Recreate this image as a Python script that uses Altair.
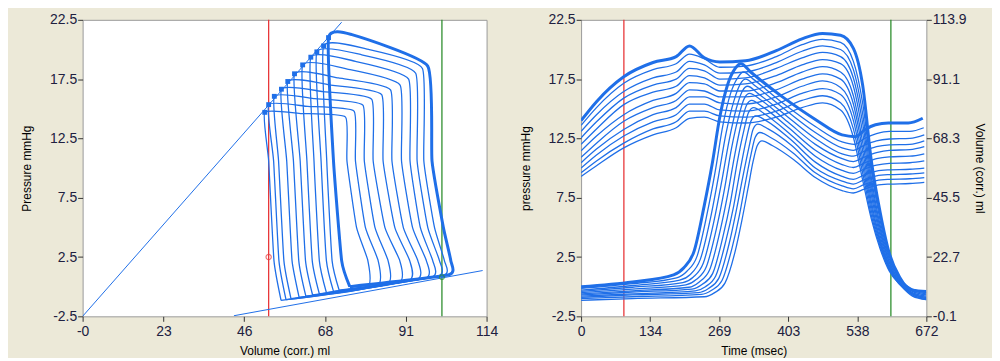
import altair as alt
import pandas as pd

BG = "#ece9d8"
BLUE = "#1f6fe8"
RED = "#e8383a"
GREEN = "#2f8f2f"
LABEL = "#202040"
FONT = "Liberation Sans"

# ---------------- left panel: pressure-volume loops (loop 0 = largest, thick) ----------------
esv_top     = [69.4, 68.0, 66.1, 64.4, 62.1, 59.8, 57.9, 56.1, 54.1, 52.5, 51.4]
p_es        = [21.0, 20.3, 19.8, 19.35, 18.7, 17.95, 17.3, 16.65, 16.05, 15.35, 14.7]
top_mid_x   = [76.0, 80.7, 78.8, 77.0, 74.7, 72.2, 70.0, 67.8, 65.5, 63.5, 61.8]
top_mid_p   = [21.25, 20.0, 19.55, 19.0, 18.35, 17.6, 17.0, 16.45, 15.85, 15.2, 14.6]
edv_top     = [97.4, 95.9, 94.0, 92.0, 89.6, 86.9, 84.4, 81.6, 79.1, 76.6, 74.2]
p_top_right = [18.6, 18.4, 18.0, 17.5, 17.0, 16.6, 16.2, 15.8, 15.3, 14.8, 14.3]
right_at_10 = [98.6, 96.3, 94.4, 92.4, 90.0, 87.3, 84.8, 82.0, 79.5, 77.0, 74.6]
right_at_5  = [101.8, 99.3, 97.4, 95.3, 93.1, 90.5, 88.1, 85.3, 82.5, 79.8, 77.3]
right_at_2  = [103.9, 102.1, 100.7, 98.8, 97.0, 94.6, 92.3, 89.5, 86.2, 83.4, 80.5]
edv_bot     = [103.4, 101.8, 100.4, 98.5, 96.7, 94.3, 92.0, 89.2, 85.9, 83.1, 80.2]
p_bot_right = [1.0, 0.95, 0.9, 0.8, 0.7, 0.6, 0.5, 0.35, 0.2, 0.05, -0.1]
esv_bot     = [75.4, 72.4, 70.8, 68.8, 66.8, 64.9, 63.0, 61.1, 58.8, 57.4, 56.0]
p_bot_left  = [0.0, -0.3, -0.4, -0.5, -0.6, -0.7, -0.8, -0.9, -1.0, -1.1, -1.15]
left_at_10  = [70.8, 68.9, 67.3, 65.3, 63.3, 61.4, 59.5, 57.6, 55.3, 53.9, 52.5]
left_at_2   = [73.1, 70.4, 68.8, 66.8, 64.8, 62.9, 61.0, 59.1, 56.8, 55.4, 54.0]
P_HIGH, P_MID, P_LOW = 10.6, 5.0, 2.2

espvr_vol, espvr_p = [0.0, 73.1], [-2.5, 22.3]
edpvr_vol, edpvr_p = [42.7, 112.9], [-2.45, 1.36]
red_vol, green_vol = 52.5, 101.4
red_mark = (52.5, 2.5)
green_mark = (101.4, 0.8)

vol_ticks = [0, 22.8, 45.6, 68.4, 91.2, 114]
p_ticks = [-2.5, 2.5, 7.5, 12.5, 17.5, 22.5]

# ---------------- right panel: curves against time ----------------
time_ticks = [0, 134.4, 268.8, 403.2, 537.6, 672]
vol_axis_ticks = [-0.1, 22.7, 45.5, 68.3, 91.1, 113.9]
red_t, green_t = 83.3, 603.0

# upper family (starts high), common time grid
tx = [0, 30, 83, 140, 185, 211, 240, 270, 320, 380, 430, 470, 505, 530, 548, 565, 582, 600, 620, 645, 672]
upper_curves = [
    [14.0, 15.6, 17.7, 18.9, 19.4, 20.3, 19.3, 18.95, 19.05, 19.9, 20.9, 21.35, 21.2, 20.1, 17.0, 10.6, 6.3, 2.8, 0.8, -0.3, -0.4],
    [13.6, 15.1, 17.15, 18.3, 18.8, 19.6, 19.2, 18.5, 18.6, 19.4, 20.4, 20.85, 20.6, 19.0, 15.5, 9.8, 5.6, 2.5, 0.7, -0.2, -0.5],
    [13.1, 14.5, 16.45, 17.6, 18.1, 19.0, 18.7, 18.0, 18.1, 18.9, 19.85, 20.3, 20.0, 18.3, 14.6, 9.2, 5.2, 2.3, 0.6, -0.3, -0.6],
    [12.55, 13.9, 15.9, 17.0, 17.5, 18.4, 18.2, 17.5, 17.6, 18.4, 19.3, 19.75, 19.4, 17.6, 13.8, 8.7, 4.9, 2.1, 0.5, -0.4, -0.7],
    [12.0, 13.3, 15.35, 16.4, 16.9, 17.8, 17.6, 17.0, 17.1, 17.8, 18.7, 19.15, 18.8, 16.9, 13.0, 8.2, 4.6, 2.0, 0.4, -0.5, -0.8],
    [11.45, 12.7, 14.5, 15.7, 16.3, 17.2, 17.1, 16.5, 16.5, 17.2, 18.1, 18.55, 18.1, 16.1, 12.2, 7.7, 4.3, 1.8, 0.3, -0.6, -0.9],
    [10.9, 12.1, 13.95, 15.1, 15.7, 16.6, 16.5, 16.0, 16.0, 16.6, 17.5, 17.95, 17.5, 15.4, 11.5, 7.2, 4.0, 1.7, 0.3, -0.6, -0.9],
    [10.45, 11.6, 13.25, 14.5, 15.1, 16.0, 16.0, 15.5, 15.4, 16.0, 16.9, 17.35, 16.8, 14.7, 10.8, 6.8, 3.8, 1.6, 0.3, -0.6, -1.0],
    [10.0, 11.1, 12.7, 13.9, 14.5, 15.4, 15.4, 14.9, 14.8, 15.4, 16.3, 16.7, 16.2, 14.0, 10.2, 6.4, 3.6, 1.5, 0.3, -0.7, -1.0],
    [9.6, 10.6, 12.1, 13.3, 13.9, 14.8, 14.8, 14.4, 14.3, 14.8, 15.7, 16.1, 15.5, 13.3, 9.6, 6.0, 3.4, 1.4, 0.2, -0.7, -1.1],
    [9.3, 10.2, 11.7, 12.8, 13.4, 14.2, 14.3, 13.9, 13.8, 14.3, 15.1, 15.5, 14.9, 12.6, 9.0, 5.7, 3.2, 1.3, 0.2, -0.8, -1.1],
]

# lower family (starts low, sharp rise), each curve with its own times
lower_times = [
    [0, 100, 180, 200, 220, 240, 255, 270, 285, 300, 311, 330, 392, 456, 508, 534, 553, 573, 598, 637, 665],
    [0, 100, 186, 206, 226, 246, 261, 276, 291, 306, 316, 335, 395, 456, 508, 532, 552, 575, 600, 640, 667],
    [0, 100, 192, 212, 232, 252, 267, 282, 297, 310, 320, 340, 398, 456, 508, 530, 550, 575, 600, 640, 668],
    [0, 100, 198, 218, 238, 258, 273, 288, 302, 314, 324, 344, 400, 456, 508, 530, 550, 575, 600, 640, 668],
    [0, 100, 204, 224, 244, 264, 279, 293, 307, 318, 328, 348, 402, 456, 508, 530, 550, 575, 600, 640, 668],
    [0, 100, 210, 230, 250, 270, 285, 299, 312, 322, 332, 352, 404, 456, 508, 530, 550, 575, 600, 640, 668],
    [0, 100, 216, 236, 256, 276, 291, 304, 317, 326, 336, 356, 406, 456, 508, 530, 550, 575, 600, 640, 668],
    [0, 100, 222, 242, 262, 282, 297, 310, 322, 331, 340, 360, 408, 456, 508, 530, 550, 575, 600, 640, 668],
    [0, 100, 228, 248, 268, 288, 302, 315, 327, 335, 344, 364, 410, 456, 508, 530, 550, 575, 600, 640, 668],
    [0, 100, 234, 254, 274, 294, 308, 320, 331, 339, 348, 368, 412, 456, 508, 530, 550, 575, 600, 640, 668],
    [0, 100, 240, 260, 280, 300, 313, 325, 335, 343, 352, 372, 414, 456, 508, 530, 550, 575, 600, 640, 668],
]
lower_values = [
    [0.0, 0.4, 1.0, 1.6, 3.0, 6.9, 10.3, 14.3, 17.0, 18.4, 18.8, 18.1, 16.0, 14.1, 12.8, 12.65, 13.25, 13.65, 13.8, 13.8, 14.2],
    [-0.15, 0.25, 0.75, 1.3, 2.6, 6.3, 9.7, 13.6, 16.3, 17.7, 18.1, 17.5, 15.4, 13.5, 12.2, 12.0, 12.5, 12.9, 13.1, 13.1, 13.4],
    [-0.3, 0.1, 0.55, 1.0, 2.3, 5.8, 9.2, 12.9, 15.6, 17.1, 17.5, 16.9, 14.9, 13.0, 11.7, 11.5, 11.9, 12.3, 12.45, 12.5, 12.8],
    [-0.4, -0.05, 0.35, 0.8, 2.0, 5.4, 8.7, 12.3, 15.0, 16.5, 16.9, 16.3, 14.4, 12.5, 11.2, 11.0, 11.4, 11.8, 11.95, 12.0, 12.3],
    [-0.5, -0.2, 0.15, 0.6, 1.7, 5.0, 8.2, 11.7, 14.4, 15.9, 16.3, 15.8, 13.9, 12.0, 10.8, 10.55, 10.9, 11.3, 11.5, 11.55, 11.8],
    [-0.6, -0.35, -0.05, 0.4, 1.4, 4.6, 7.7, 11.1, 13.8, 15.3, 15.7, 15.2, 13.4, 11.5, 10.3, 10.05, 10.4, 10.8, 10.95, 11.0, 11.2],
    [-0.7, -0.45, -0.2, 0.2, 1.1, 4.2, 7.2, 10.5, 13.2, 14.7, 15.1, 14.6, 12.9, 11.0, 9.8, 9.55, 9.9, 10.25, 10.4, 10.45, 10.6],
    [-0.8, -0.6, -0.35, 0.0, 0.9, 3.9, 6.8, 9.9, 12.5, 14.0, 14.4, 14.0, 12.4, 10.5, 9.3, 9.05, 9.4, 9.75, 9.85, 9.9, 10.0],
    [-0.9, -0.7, -0.5, -0.15, 0.7, 3.6, 6.4, 9.3, 11.8, 13.3, 13.7, 13.3, 11.9, 10.0, 8.9, 8.65, 9.0, 9.35, 9.45, 9.5, 9.6],
    [-1.0, -0.85, -0.65, -0.3, 0.5, 3.3, 6.0, 8.8, 11.2, 12.6, 13.0, 12.6, 11.3, 9.6, 8.5, 8.25, 8.6, 8.95, 9.05, 9.1, 9.2],
    [-1.15, -1.0, -0.85, -0.5, 0.3, 3.0, 5.6, 8.3, 10.6, 11.9, 12.3, 11.9, 10.7, 9.2, 8.1, 7.9, 8.2, 8.55, 8.65, 8.7, 8.8],
]

# ---------------- tables ----------------
loop_rows = []
for k in range(len(esv_top)):
    xs = [esv_bot[k], edv_bot[k], right_at_2[k], right_at_5[k], right_at_10[k], edv_top[k],
          top_mid_x[k], esv_top[k], left_at_10[k], left_at_2[k], esv_bot[k]]
    ys = [p_bot_left[k], p_bot_right[k], P_LOW, P_MID, P_HIGH, p_top_right[k],
          top_mid_p[k], p_es[k], P_HIGH, P_LOW, p_bot_left[k]]
    for i, (x, y) in enumerate(zip(xs, ys)):
        loop_rows.append({"loop": k, "i": i, "vol": x, "p": y})
loops = pd.DataFrame(loop_rows)
markers = pd.DataFrame({"vol": esv_top, "p": p_es})
rel_lines = pd.DataFrame({
    "line": ["es"] * 2 + ["ed"] * 2,
    "vol": espvr_vol + edpvr_vol,
    "p": espvr_p + edpvr_p,
})

up_rows = []
for k, vals in enumerate(upper_curves):
    for t, v in zip(tx, vals):
        up_rows.append({"curve": k, "t": t, "p": v})
upper = pd.DataFrame(up_rows)
lo_rows = []
for k, (ts, vals) in enumerate(zip(lower_times, lower_values)):
    for t, v in zip(ts, vals):
        lo_rows.append({"curve": k, "t": t, "p": v})
lower = pd.DataFrame(lo_rows)

# ---------------- axes ----------------
HYPHEN_1F = "replace(format(datum.value, '.1f'), '\u2212', '-')"

def p_axis(title):
    return alt.Axis(values=p_ticks, labelExpr=HYPHEN_1F, title=title, tickSize=5, tickColor="#333333",
                    labelPadding=1, labelFontSize=14, labelColor=LABEL, titleFontSize=12,
                    titleFontWeight="normal", titleColor="#000000", titlePadding=8,
                    domain=False, grid=False, minExtent=41, maxExtent=41)

x_vol_axis = alt.Axis(values=vol_ticks, labelExpr="datum.value == 0 ? '-0' : format(datum.value, '.0f')",
                      title="Volume (corr.) ml", tickSize=5, tickColor="#333333", labelPadding=3,
                      labelFontSize=14, labelColor=LABEL, titleFontSize=12, titleFontWeight="normal",
                      titleColor="#000000", titlePadding=7, domain=False, grid=False, labelFlush=False)
x_time_axis = alt.Axis(values=time_ticks, format=".0f", title="Time (msec)", tickSize=5,
                       tickColor="#333333", labelPadding=3, labelFontSize=14, labelColor=LABEL,
                       titleFontSize=12, titleFontWeight="normal", titleColor="#000000",
                       titlePadding=7, domain=False, grid=False, labelFlush=False)

vol_scale = alt.Scale(domain=[0, 114], nice=False, zero=False)
p_scale = alt.Scale(domain=[-2.5, 22.5], nice=False, zero=False)
t_scale = alt.Scale(domain=[0, 672], nice=False, zero=False)

# ---------------- left panel ----------------
lx = alt.X("vol:Q", scale=vol_scale, axis=x_vol_axis)
ly = alt.Y("p:Q", scale=p_scale, axis=p_axis("Pressure mmHg"))

rel = alt.Chart(rel_lines).mark_line(color=BLUE, strokeWidth=1, clip=True).encode(
    x=lx, y=ly, detail="line:N")
thin_loops = alt.Chart(loops).transform_filter("datum.loop > 0").mark_line(
    color=BLUE, strokeWidth=1.3, clip=True, interpolate="cardinal", tension=0.55).encode(
    x=lx, y=ly, detail="loop:N", order="i:Q")
thick_loop = alt.Chart(loops).transform_filter("datum.loop == 0").mark_line(
    color=BLUE, strokeWidth=3, clip=True, interpolate="cardinal", tension=0.55).encode(
    x=lx, y=ly, order="i:Q")
sq = alt.Chart(markers).mark_square(color=BLUE, size=24, opacity=1).encode(x=lx, y=ly)
red_rule_l = alt.Chart(pd.DataFrame({"vol": [red_vol]})).mark_rule(color=RED, strokeWidth=1.3).encode(x=lx)
green_rule_l = alt.Chart(pd.DataFrame({"vol": [green_vol]})).mark_rule(color=GREEN, strokeWidth=1.3).encode(x=lx)
red_pt = alt.Chart(pd.DataFrame({"vol": [red_mark[0]], "p": [red_mark[1]]})).mark_point(
    color=RED, size=28, filled=False, strokeWidth=1.2).encode(x=lx, y=ly)
green_pt = alt.Chart(pd.DataFrame({"vol": [green_mark[0]], "p": [green_mark[1]]})).mark_point(
    color=GREEN, size=22, filled=False, strokeWidth=1.2).encode(x=lx, y=ly)

left = alt.layer(red_rule_l, green_rule_l, rel, thin_loops, thick_loop, sq, red_pt, green_pt).properties(
    width=406, height=298)

# ---------------- right panel ----------------
rx = alt.X("t:Q", scale=t_scale, axis=x_time_axis)
ry = alt.Y("p:Q", scale=p_scale, axis=p_axis("pressure mmHg"))

up_thin = alt.Chart(upper).transform_filter("datum.curve > 0").mark_line(
    color=BLUE, strokeWidth=1.3, clip=True, interpolate="monotone").encode(
    x=rx, y=ry, detail="curve:N", order="t:Q")
up_thick = alt.Chart(upper).transform_filter("datum.curve == 0").mark_line(
    color=BLUE, strokeWidth=3, clip=True, interpolate="monotone").encode(x=rx, y=ry, order="t:Q")
lo_thin = alt.Chart(lower).transform_filter("datum.curve > 0").mark_line(
    color=BLUE, strokeWidth=1.3, clip=True, interpolate="monotone").encode(
    x=rx, y=ry, detail="curve:N", order="t:Q")
lo_thick = alt.Chart(lower).transform_filter("datum.curve == 0").mark_line(
    color=BLUE, strokeWidth=3, clip=True, interpolate="monotone").encode(x=rx, y=ry, order="t:Q")
red_rule_r = alt.Chart(pd.DataFrame({"t": [red_t]})).mark_rule(color=RED, strokeWidth=1.3).encode(x=rx)
green_rule_r = alt.Chart(pd.DataFrame({"t": [green_t]})).mark_rule(color=GREEN, strokeWidth=1.3).encode(x=rx)

pressure_layers = alt.layer(red_rule_r, green_rule_r, up_thin, lo_thin, up_thick, lo_thick)

vol_axis_layer = alt.Chart(pd.DataFrame({"t": [0, 0], "v": [vol_axis_ticks[0], vol_axis_ticks[-1]]})).mark_point(
    opacity=0).encode(
    x=rx,
    y=alt.Y("v:Q", scale=alt.Scale(domain=[-0.1, 113.9], nice=False, zero=False),
            axis=alt.Axis(orient="right", values=vol_axis_ticks, labelExpr=HYPHEN_1F,
                          title="Volume (corr.) ml", titleAngle=90, tickSize=5, tickColor="#333333",
                          labelPadding=1, labelFontSize=14, labelColor=LABEL, titleFontSize=12,
                          titleFontWeight="normal", titleColor="#000000", titlePadding=8,
                          domain=False, grid=False, minExtent=38, maxExtent=38)),
)

right = alt.layer(pressure_layers, vol_axis_layer).resolve_scale(y="independent").properties(
    width=347, height=298)

chart = alt.hconcat(left, right, spacing=20).properties(
    background=BG,
    padding={"left": 12, "top": 3, "right": 6, "bottom": 0},
).configure_view(fill="white", stroke="#9a9a9a", strokeWidth=1).configure_axis(
    labelFont=FONT, titleFont=FONT)

chart.save("out.html", embed_options={"renderer": "svg", "actions": False})
